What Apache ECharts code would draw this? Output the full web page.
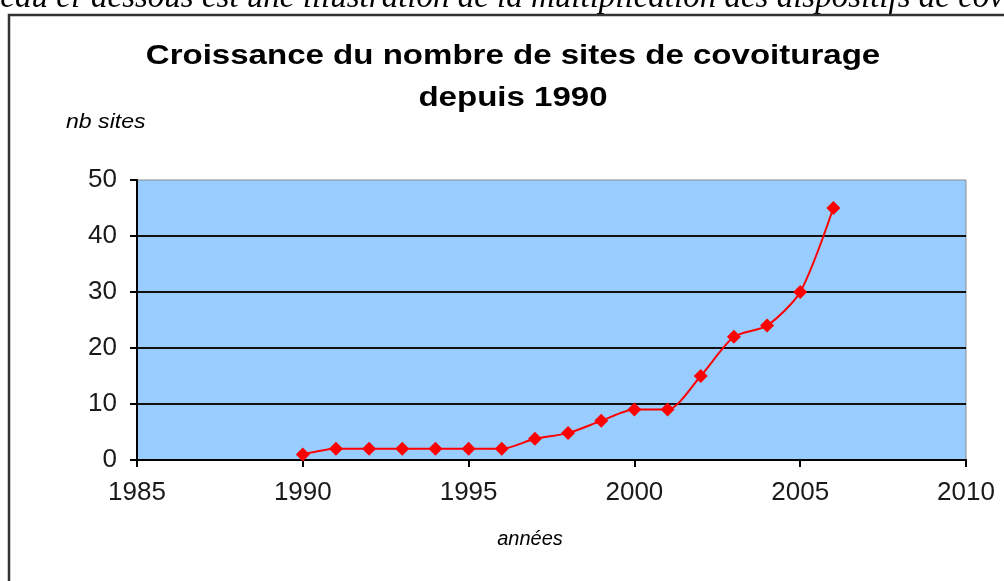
<!DOCTYPE html>
<html>
<head>
<meta charset="utf-8">
<script src="https://cdn.jsdelivr.net/npm/echarts@6/dist/echarts.min.js"></script>
<style>html,body{margin:0;padding:0;background:#fff}#c{width:1004px;height:581px}</style>
</head>
<body>
<div id="c"></div>
<script>
const years = [1990,1991,1992,1993,1994,1995,1996,1997,1998,1999,2000,2001,2002,2003,2004,2005,2006];
const sites = [1,2,2,2,2,2,2,3.8,4.8,7,9,9,15,22,24,30,45];
const xTicks = [1985,1990,1995,2000,2005,2010];
const yTicks = [0,10,20,30,40,50];
const titleLines = ['Croissance du nombre de sites de covoiturage','depuis 1990'];
const yName = 'nb sites';
const xName = 'années';
const topText = 'tableau ci-dessous est une illustration de la multiplication des dispositifs de covoiturage';

const chart = echarts.init(document.getElementById('c'), null, {renderer:'canvas'});
const F = '"Liberation Sans", Arial, sans-serif';
chart.setOption({
  animation:false,
  backgroundColor:'#fff',
  grid:{left:137,right:38,top:180,bottom:121,show:true,backgroundColor:'#99CCFF',borderColor:'#8a8a8a',borderWidth:1},
  xAxis:{type:'value',min:xTicks[0],max:xTicks[xTicks.length-1],interval:5,
    axisLine:{lineStyle:{color:'#000',width:2}},
    axisTick:{show:true,inside:false,length:7,lineStyle:{color:'#000',width:2}},
    splitLine:{show:false},
    axisLabel:{fontFamily:F,fontSize:26,color:'#1a1a1a',margin:20,formatter:v=>String(v)}},
  yAxis:{type:'value',min:yTicks[0],max:yTicks[yTicks.length-1],interval:10,
    axisLine:{show:true,lineStyle:{color:'#000',width:2}},
    axisTick:{show:true,inside:false,length:7,lineStyle:{color:'#000',width:2}},
    splitLine:{show:true,showMinLine:false,showMaxLine:false,lineStyle:{color:'#111',width:2}},
    axisLabel:{fontFamily:F,fontSize:26,color:'#1a1a1a',margin:20}},
  series:[{type:'line',data:years.map((y,i)=>[y,sites[i]]),smooth:0.25,
    symbol:'diamond',symbolSize:14,
    lineStyle:{color:'#ff0000',width:2},itemStyle:{color:'#ff0000'}}],
  graphic:[
    {type:'text',x:-51,y:-18,style:{text:topText,font:'italic 33px "Liberation Serif", "Times New Roman", serif',fill:'#000',verticalAlign:'top'}},
    {type:'polyline',shape:{points:[[9,581],[9,15],[1004,15]]},style:{stroke:'#333',lineWidth:2.5,fill:null}},
    {type:'text',x:513,y:56,scaleX:1.18,style:{text:titleLines[0],font:'bold 28px '+F,fill:'#000',align:'center',verticalAlign:'middle'}},
    {type:'text',x:513,y:98,scaleX:1.18,style:{text:titleLines[1],font:'bold 28px '+F,fill:'#000',align:'center',verticalAlign:'middle'}},
    {type:'text',x:66,y:122,scaleX:1.1,style:{text:yName,font:'italic 21px '+F,fill:'#000',align:'left',verticalAlign:'middle'}},
    {type:'text',x:530,y:539,style:{text:xName,font:'italic 20px '+F,fill:'#000',align:'center',verticalAlign:'middle'}}
  ]
});
</script>
</body>
</html>
